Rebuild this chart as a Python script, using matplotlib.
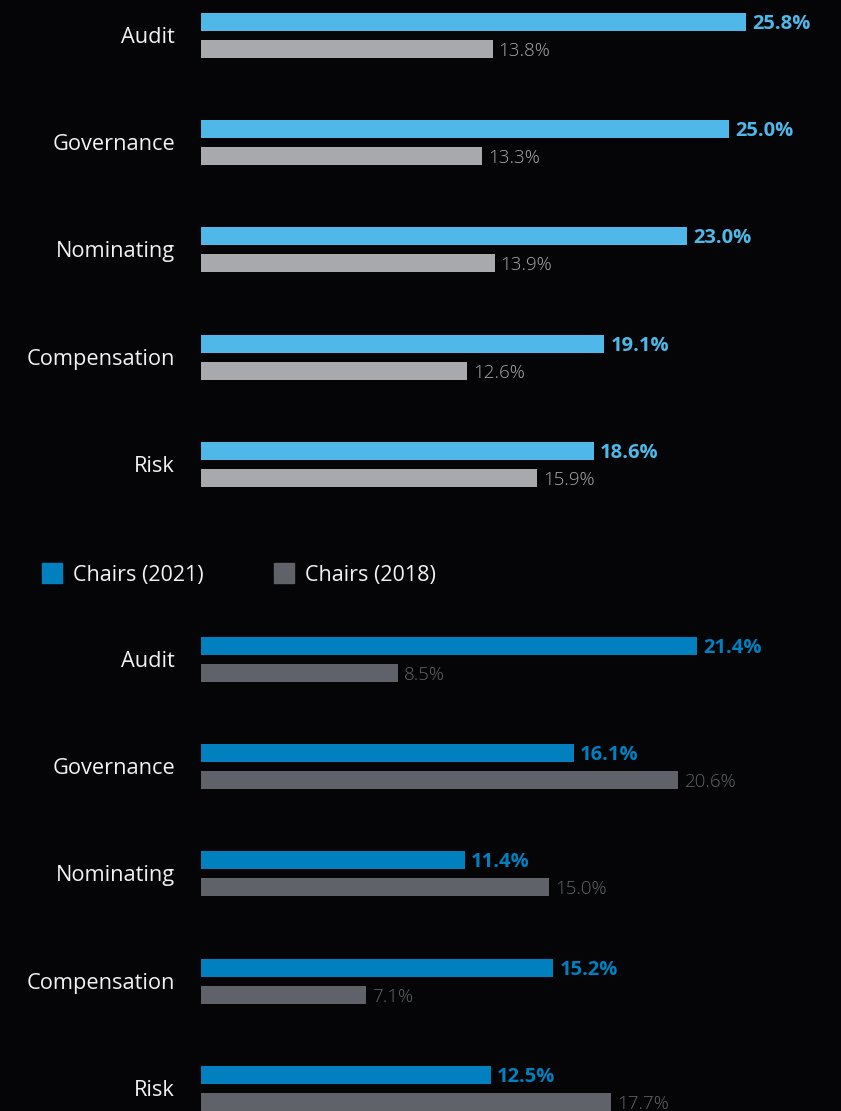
import matplotlib
matplotlib.use("Agg")
import matplotlib.pyplot as plt
from matplotlib.patches import Rectangle

categories = ["Audit", "Governance", "Nominating", "Compensation", "Risk"]
top_2021 = [25.8, 25.0, 23.0, 19.1, 18.6]
top_2018 = [13.8, 13.3, 13.9, 12.6, 15.9]
chairs_2021 = [21.4, 16.1, 11.4, 15.2, 12.5]
chairs_2018 = [8.5, 20.6, 15.0, 7.1, 17.7]
legend_labels = ["Chairs (2021)", "Chairs (2018)"]

BG = "#050507"
C_TOP_NEW = "#4FB8E8"
C_TOP_OLD = "#A7A9AC"
C_BOT_NEW = "#0080BF"
C_BOT_OLD = "#5F6369"
TXT = "#F2F2F2"

W, H = 841, 1111
fig = plt.figure(figsize=(W / 100, H / 100), dpi=100, facecolor=BG)

LABEL_FONT = ["Open Sans", "DejaVu Sans"]
VAL_FONT = ["Open Sans", "DejaVu Sans"]

STEP = 107.2  # px per category


def make_axes(px_top, px_bot, center0, px_per_unit):
    x0 = 201 / W
    ax = fig.add_axes([x0, 1 - px_bot / H, 1 - x0, (px_bot - px_top) / H])
    ax.set_facecolor("none")
    ax.set_xlim(0, (W - 201) / px_per_unit)
    top = -(center0 - px_top) / STEP
    bot = top + (px_bot - px_top) / STEP
    ax.set_ylim(bot, top)
    ax.axis("off")
    return ax


def draw_panel(ax, new_vals, old_vals, c_new, c_old, c_old_txt, px_per_unit):
    off = 13.5 / STEP
    h = 18 / STEP
    nudge = 2 / STEP
    ys = list(range(len(categories)))
    ax.barh([y - off for y in ys], new_vals, height=h, color=c_new)
    ax.barh([y + off for y in ys], old_vals, height=h, color=c_old)
    pad = 6 / px_per_unit
    for y, v in zip(ys, new_vals):
        ax.text(v + pad, y - off + nudge, f"{v:.1f}%", color=c_new, fontsize=14.5,
                fontweight="bold", family=VAL_FONT, va="center", ha="left")
    for y, v in zip(ys, old_vals):
        ax.text(v + pad, y + off + nudge, f"{v:.1f}%", color=c_old_txt, fontsize=13.5,
                fontweight="light", family=VAL_FONT, va="center", ha="left")
    for y, c in zip(ys, categories):
        ax.text(-26 / px_per_unit, y + nudge, c, color=TXT, fontsize=15.7,
                family=LABEL_FONT, va="center", ha="right")


top_scale = (746 - 201) / 25.8
bot_scale = (697 - 201) / 21.4

ax1 = make_axes(0, 515, 35.5, top_scale)
draw_panel(ax1, top_2021, top_2018, C_TOP_NEW, C_TOP_OLD, C_TOP_OLD, top_scale)

ax2 = make_axes(600, H, 659.5, bot_scale)
draw_panel(ax2, chairs_2021, chairs_2018, C_BOT_NEW, C_BOT_OLD, C_BOT_OLD, bot_scale)

# legend
for (sx, tx), lab, col in zip([(42, 73), (274, 305)], legend_labels, [C_BOT_NEW, C_BOT_OLD]):
    fig.patches.append(Rectangle((sx / W, 1 - 583 / H), 20 / W, 20 / H,
                                 transform=fig.transFigure, color=col))
    fig.text(tx / W, 1 - 575.5 / H, lab, color=TXT, fontsize=15.5,
             family=LABEL_FONT, va="center", ha="left")

fig.savefig("out.png", dpi=100, facecolor=BG)
